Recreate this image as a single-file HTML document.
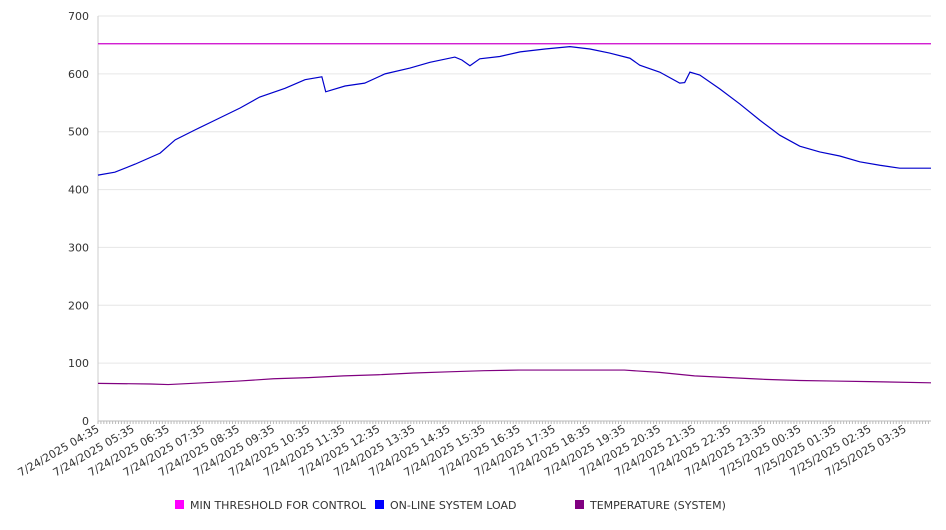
<!DOCTYPE html>
<html><head><meta charset="utf-8"><style>
body{margin:0;background:#fff;font-family:"DejaVu Sans","Liberation Sans",sans-serif}
svg text{font-family:"DejaVu Sans","Liberation Sans",sans-serif;fill:#333}
</style></head><body>
<svg id="c" width="946" height="526"></svg>
<script>
const xLabels=["04:35","05:35","06:35","07:35","08:35","09:35","10:35","11:35","12:35","13:35","14:35","15:35","16:35","17:35","18:35","19:35","20:35","21:35","22:35","23:35","00:35","01:35","02:35","03:35"];
const yTicks=[0,100,200,300,400,500,600,700];
const threshold=652;
const loadHours=[0,0.48,1.06,1.77,2.2,2.76,3.34,4.05,4.61,5.33,5.9,6.38,6.49,7.04,7.6,8.18,8.89,9.46,10.17,10.37,10.6,10.88,11.45,12.03,12.74,13.45,14.02,14.58,15.16,15.44,16.01,16.58,16.72,16.87,17.15,17.72,18.29,18.86,19.43,20.0,20.57,21.14,21.71,22.28,22.85,23.74];
const loadVals=[425,430,444,463,486,503,520,541,560,575,590,595,569,579,584,600,610,620,629,624,614,626,630,638,643,647,643,636,627,615,603,584,585,603,598,574,548,520,494,475,465,458,448,442,437,437];
const tempHours=[0,1.5,2,3,4,5,6,7,8,9,10,11,12,13,14,15,16,17,18,19,20,21,22,23.74];
const tempVals=[65,64,63,66,69,73,75,78,80,83,85,87,88,88,88,88,84,78,75,72,70,69,68,66];
const X0=98,X1=931,Y0=421,Y1=16,HMAX=23.74;
const sx=h=>X0+(h/HMAX)*(X1-X0);
const sy=v=>Y0-(v/700)*(Y0-Y1);
const svg=document.getElementById('c');const NS='http://www.w3.org/2000/svg';
function mk(t,a,p){const e=document.createElementNS(NS,t);for(const k in a)e.setAttribute(k,a[k]);(p||svg).appendChild(e);return e;}
yTicks.forEach(v=>{
 const g=mk('line',{x1:X0,x2:X1,y1:sy(v),y2:sy(v),stroke:v===0?'#bbb':'#e6e6e6'});
 
 
 const t=mk('text',{x:89,y:sy(v)+4,'text-anchor':'end','font-size':11});t.textContent=v;
 
 
});
const ax=mk('line',{x1:X0,x2:X0,y1:Y1,y2:Y0,stroke:'#ccc'});


for(let h=0;h<=HMAX;h+=1/12){const m=mk('line',{x1:sx(h),x2:sx(h),y1:Y0,y2:Y0+3,stroke:'#bbb'});
 
 }
xLabels.forEach((l,i)=>{const d=i<20?'7/24/2025 ':'7/25/2025 ';
 const t=mk('text',{transform:`translate(${sx(i)+2},${Y0+10}) rotate(-30)`,'text-anchor':'end','font-size':11});t.textContent=d+l;
 
 });
const th=mk('line',{x1:X0,x2:X1,y1:sy(threshold),y2:sy(threshold),stroke:'#cc00cc','stroke-width':1.2});


function path(hs,vs,col,name){const p=mk('polyline',{points:hs.map((h,i)=>sx(h)+','+sy(vs[i])).join(' '),fill:'none',stroke:col,'stroke-width':1.2});
 
 }
path(loadHours,loadVals,'#0000cc','load-line');
path(tempHours,tempVals,'#800080','temperature-line');
const leg=[["MIN THRESHOLD FOR CONTROL","#ff00ff",175],["ON-LINE SYSTEM LOAD","#0000ff",375],["TEMPERATURE (SYSTEM)","#800080",575]];
leg.forEach(([n,c,x])=>{const g=mk('g',{});
 
 
 mk('rect',{x:x,y:500,width:9,height:9,fill:c},g);
 const t=mk('text',{x:x+15,y:509,'font-size':11},g);t.textContent=n;});
</script></body></html>
